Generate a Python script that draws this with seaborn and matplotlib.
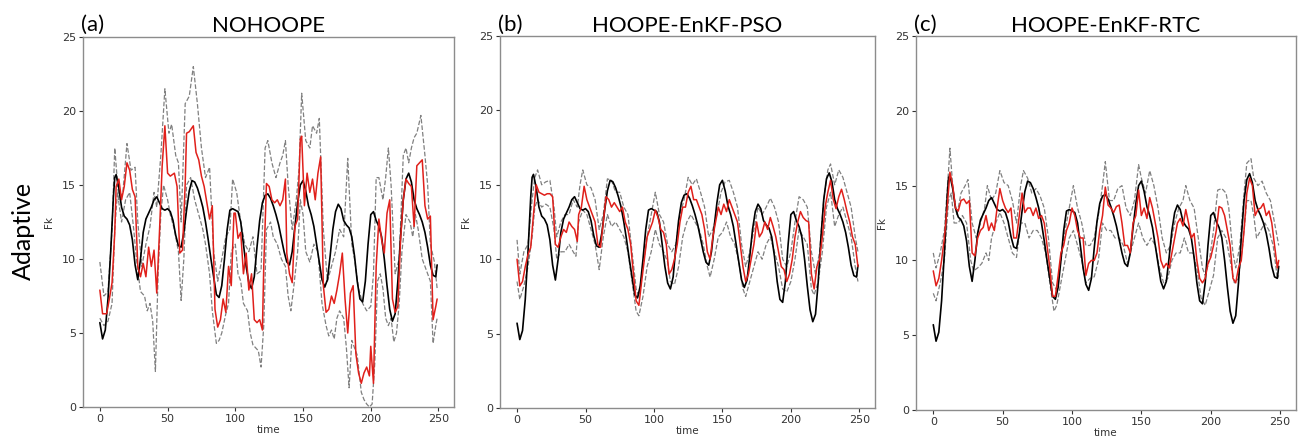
import numpy as np
import matplotlib
matplotlib.use("Agg")
import matplotlib.pyplot as plt
import seaborn as sns

# ---------------- data ----------------
time_truth = [0, 2, 4, 6, 8, 10, 11, 12, 14, 16, 18, 20, 22, 24, 26, 28, 30, 32, 34, 36, 38, 40, 42, 44, 46, 48, 50,
              52, 54, 56, 58, 60, 62, 64, 66, 68, 70, 72, 74, 76, 78, 80, 82, 84, 86, 88, 90, 92, 94, 96, 98, 100,
              102, 104, 106, 108, 110, 112, 114, 116, 118, 120, 122, 124, 126, 128, 130, 132, 134, 136, 138, 140,
              142, 144, 146, 148, 150, 152, 154, 156, 158, 160, 162, 164, 166, 168, 170, 172, 174, 176, 178, 180,
              182, 184, 186, 188, 190, 192, 194, 196, 198, 200, 202, 204, 206, 208, 210, 212, 214, 216, 218, 220,
              222, 224, 226, 228, 230, 232, 234, 236, 238, 240, 242, 244, 246, 248, 249]
truth = [5.7, 4.6, 5.2, 7.3, 10.5, 14.2, 15.5, 15.7, 14.8, 13.5, 12.9, 12.7, 12.3, 11.3, 9.6, 8.6, 10.0, 11.8, 12.7,
         13.1, 13.5, 14.0, 14.2, 13.8, 13.4, 13.3, 13.4, 13.2, 12.6, 11.6, 10.9, 10.8, 11.8, 13.3, 14.6, 15.3, 15.2,
         14.8, 14.2, 13.5, 12.5, 11.3, 10.0, 8.8, 7.6, 7.4, 8.2, 10.0, 12.0, 13.3, 13.4, 13.3, 13.2, 12.5, 11.0, 9.5,
         8.4, 8.0, 8.8, 10.8, 12.6, 13.8, 14.3, 14.4, 14.1, 13.6, 13.0, 12.3, 11.4, 10.5, 9.8, 9.6, 10.5, 12.2, 13.8,
         15.0, 15.3, 14.6, 13.6, 13.0, 12.2, 11.0, 9.8, 8.6, 8.1, 8.6, 10.2, 12.0, 13.2, 13.7, 13.4, 12.6, 12.3, 12.1,
         11.5, 10.2, 8.5, 7.3, 7.1, 8.5, 11.0, 13.0, 13.2, 12.6, 12.2, 11.5, 10.0, 8.2, 6.6, 5.8, 6.3, 8.5, 11.5, 14.0,
         15.4, 15.8, 15.2, 14.0, 13.4, 13.0, 12.5, 11.8, 10.8, 9.6, 8.9, 8.8, 9.6]

# ---- panel (a) NOHOOPE ----
time_a_mean = [0, 2, 5, 7, 9, 11, 12, 14, 16, 18, 20, 22, 24, 26, 28, 30, 32, 34, 36, 38, 40, 42, 44, 46, 48, 50, 52,
               55, 57, 59, 61, 63, 64, 66, 69, 71, 73, 75, 77, 79, 81, 83, 85, 87, 89, 91, 93, 95, 97, 99, 100, 102,
               104, 106, 108, 110, 112, 114, 116, 118, 120, 121, 123, 125, 127, 129, 131, 133, 135, 137, 138, 140,
               142, 144, 146, 148, 149, 151, 153, 155, 157, 159, 161, 163, 165, 167, 169, 171, 173, 175, 177, 179,
               181, 183, 185, 187, 189, 191, 193, 195, 197, 199, 200, 202, 204, 206, 208, 210, 212, 214, 216, 218,
               220, 222, 224, 226, 228, 230, 232, 234, 236, 238, 240, 242, 244, 246, 248, 249]
a_mean = [7.9, 6.3, 6.3, 7.3, 8.4, 11.8, 14.9, 15.4, 14.0, 14.9, 16.5, 16.0, 14.7, 14.2, 9.5, 8.8, 9.7, 8.8, 10.8,
          9.5, 10.6, 7.7, 11.8, 16.3, 19.0, 15.8, 15.6, 15.8, 14.9, 10.4, 10.6, 15.1, 18.5, 18.6, 19.0, 17.2, 16.7,
          15.6, 14.9, 13.8, 12.7, 13.6, 6.6, 5.4, 5.9, 7.3, 6.4, 9.5, 8.2, 13.1, 13.1, 11.4, 11.8, 9.0, 10.4, 7.9,
          9.0, 5.9, 5.7, 5.9, 5.2, 9.5, 15.1, 14.9, 14.0, 13.8, 14.0, 13.6, 14.0, 15.4, 10.4, 9.0, 8.4, 12.2, 12.7,
          18.1, 18.3, 13.6, 15.8, 14.5, 15.4, 14.0, 15.8, 16.9, 8.2, 6.4, 6.6, 7.5, 7.0, 7.9, 9.0, 10.4, 7.3, 5.0,
          7.7, 8.2, 3.6, 2.3, 1.6, 2.3, 2.7, 2.1, 4.1, 1.6, 9.5, 12.7, 11.3, 10.4, 13.1, 14.0, 7.3, 6.4, 6.8, 11.3,
          14.0, 15.4, 15.1, 14.9, 12.2, 16.3, 16.5, 16.7, 13.6, 12.7, 12.9, 5.9, 6.8, 7.3]

time_a_upper = [0, 3, 6, 9, 11, 14, 17, 20, 23, 26, 28, 31, 34, 37, 40, 42, 45, 48, 51, 53, 56, 58, 60, 63, 66, 69,
                72, 75, 78, 81, 84, 87, 90, 93, 96, 98, 101, 104, 107, 110, 113, 116, 119, 122, 124, 127, 130, 133,
                135, 137, 139, 142, 145, 147, 149, 152, 155, 157, 160, 162, 165, 168, 171, 174, 177, 180, 183, 186,
                188, 191, 194, 197, 200, 202, 204, 206, 209, 211, 213, 215, 218, 221, 224, 226, 228, 230, 232, 234,
                237, 240, 242, 244, 247, 249]
a_upper = [9.8, 7.5, 7.8, 12.0, 17.5, 14.0, 14.5, 17.8, 16.0, 16.2, 12.5, 9.5, 11.0, 12.2, 14.5, 13.5, 17.0, 21.5,
           18.5, 19.1, 17.0, 16.5, 12.5, 20.5, 21.0, 23.0, 20.5, 17.5, 15.5, 16.2, 10.5, 8.5, 10.0, 11.5, 12.0, 15.4,
           14.5, 12.5, 11.0, 10.5, 11.5, 9.0, 9.2, 17.5, 18.0, 16.5, 15.5, 16.5, 17.0, 18.0, 15.0, 12.0, 14.0, 16.0,
           21.2, 18.0, 17.5, 19.0, 18.5, 19.5, 12.0, 8.5, 9.5, 10.5, 12.0, 11.5, 16.8, 11.0, 10.0, 8.0, 7.0, 6.5,
           6.8, 9.0, 15.5, 15.5, 14.0, 15.5, 17.5, 15.0, 9.0, 10.0, 17.0, 17.5, 16.5, 17.5, 18.2, 18.5, 19.7, 17.0,
           15.0, 11.0, 9.8, 8.0]

time_a_lower = [0, 3, 6, 9, 11, 13, 16, 19, 22, 25, 27, 30, 33, 35, 37, 39, 41, 43, 45, 47, 50, 52, 55, 58, 60, 62,
                64, 67, 70, 73, 76, 78, 81, 83, 86, 88, 90, 93, 95, 97, 100, 102, 104, 106, 109, 111, 113, 115, 117,
                119, 121, 123, 126, 128, 131, 134, 137, 139, 141, 143, 146, 148, 150, 152, 155, 158, 161, 164, 167,
                169, 171, 173, 175, 177, 180, 182, 184, 186, 188, 190, 193, 195, 197, 199, 201, 203, 205, 207, 209,
                211, 213, 215, 217, 219, 221, 223, 226, 229, 231, 233, 235, 238, 240, 242, 244, 246, 248, 249]
a_lower = [6.0, 5.5, 5.8, 7.0, 12.0, 14.5, 12.5, 14.0, 14.5, 12.0, 10.0, 7.8, 7.5, 6.5, 7.0, 5.8, 2.4, 9.0, 13.0,
           15.0, 14.0, 13.0, 12.0, 10.5, 7.2, 10.0, 15.0, 15.5, 14.0, 13.0, 12.0, 11.0, 9.0, 6.5, 4.3, 4.5, 5.0, 6.3,
           7.0, 10.5, 11.0, 9.0, 8.5, 7.0, 6.5, 5.0, 4.2, 4.0, 3.8, 2.7, 5.5, 12.0, 12.5, 11.5, 11.0, 10.0, 9.5, 7.5,
           6.5, 8.0, 10.5, 14.0, 13.0, 10.5, 9.8, 11.0, 10.5, 7.0, 5.5, 4.8, 5.2, 4.6, 6.0, 6.5, 6.0, 4.0, 1.3, 4.5,
           4.0, 3.5, 1.0, 0.5, 0.2, 0.0, 0.2, 3.0, 8.5, 9.0, 8.0, 6.0, 5.5, 6.0, 4.4, 5.0, 7.0, 10.5, 13.0, 12.5,
           11.5, 13.0, 12.0, 10.0, 9.5, 9.0, 8.5, 4.3, 5.5, 6.0]

# ---- panel (b) HOOPE-EnKF-PSO ----
time_b_mean = [0, 2, 4, 6, 8, 10, 12, 14, 16, 18, 20, 22, 24, 26, 28, 30, 32, 34, 36, 38, 40, 42, 44, 45, 47, 49, 51,
               53, 55, 57, 59, 61, 63, 65, 67, 69, 71, 73, 75, 77, 79, 81, 83, 85, 87, 89, 91, 93, 95, 97, 99, 101,
               103, 105, 107, 109, 111, 113, 115, 117, 119, 121, 123, 125, 127, 129, 131, 133, 135, 137, 139, 141,
               143, 145, 147, 149, 151, 153, 155, 157, 159, 161, 163, 165, 167, 169, 171, 173, 175, 177, 179, 181,
               183, 185, 187, 189, 191, 193, 195, 197, 199, 201, 203, 205, 207, 209, 211, 213, 215, 217, 219, 221,
               223, 225, 227, 229, 231, 233, 235, 237, 239, 241, 243, 245, 247, 249]
b_mean = [10.0, 8.2, 8.5, 9.5, 10.3, 10.8, 13.0, 15.0, 14.5, 14.4, 14.3, 14.4, 14.4, 14.2, 11.0, 10.8, 11.5, 12.0,
          11.8, 12.5, 12.2, 12.0, 11.2, 13.0, 13.5, 14.9, 14.0, 13.5, 13.0, 12.5, 11.0, 10.8, 12.5, 14.2, 14.0, 13.5,
          13.8, 13.5, 13.2, 13.5, 12.5, 12.0, 11.0, 9.0, 7.2, 6.9, 8.5, 10.0, 11.5, 12.0, 12.5, 13.3, 12.8, 12.0,
          11.8, 11.0, 9.0, 9.3, 10.0, 11.0, 12.5, 13.5, 13.5, 14.5, 14.9, 14.0, 14.0, 13.5, 13.0, 12.0, 10.5, 10.0,
          11.5, 12.5, 13.5, 13.0, 13.7, 13.2, 14.0, 13.5, 13.0, 12.5, 11.0, 9.5, 8.5, 9.0, 10.0, 11.0, 12.5, 11.5,
          11.8, 12.5, 12.0, 12.8, 12.2, 11.5, 10.5, 9.5, 9.3, 8.5, 9.0, 10.0, 11.5, 12.5, 13.2, 12.8, 12.6, 12.5,
          9.0, 8.0, 9.5, 10.0, 11.5, 13.5, 14.5, 15.3, 14.0, 13.4, 14.2, 14.7, 14.0, 13.2, 12.5, 11.5, 11.0, 9.5]

time_b_upper = [0, 2, 5, 8, 11, 13, 15, 18, 21, 24, 27, 29, 32, 35, 38, 41, 44, 46, 48, 51, 54, 57, 60, 63, 66, 69,
                72, 75, 78, 81, 84, 87, 89, 92, 95, 98, 101, 104, 107, 110, 113, 116, 119, 122, 125, 128, 131, 134,
                137, 140, 143, 146, 149, 152, 155, 158, 161, 164, 167, 170, 173, 176, 179, 182, 185, 188, 191, 194,
                197, 200, 203, 206, 209, 212, 215, 218, 221, 224, 227, 229, 232, 235, 238, 241, 244, 247, 249]
b_upper = [11.3, 9.0, 10.5, 11.0, 14.0, 15.5, 16.0, 15.0, 15.2, 15.3, 13.5, 11.5, 12.5, 13.0, 13.0, 14.0, 13.5, 15.0,
           16.0, 15.0, 14.8, 14.0, 12.0, 13.0, 15.4, 15.3, 14.5, 14.5, 13.5, 13.0, 10.5, 8.0, 7.5, 9.5, 11.5, 13.0,
           14.5, 13.0, 12.5, 11.0, 10.5, 11.0, 13.0, 14.0, 15.5, 15.0, 15.4, 14.5, 13.5, 11.5, 12.0, 13.0, 14.5,
           15.2, 15.3, 14.5, 13.5, 11.0, 9.5, 10.5, 12.0, 13.5, 13.0, 13.5, 14.1, 13.5, 12.5, 10.0, 9.5, 10.5, 12.5,
           14.2, 14.0, 13.5, 10.5, 9.0, 10.5, 14.0, 16.0, 16.4, 15.0, 16.0, 15.5, 14.5, 13.5, 11.5, 10.5]

time_b_lower = [0, 2, 5, 8, 11, 13, 15, 18, 21, 24, 27, 29, 32, 35, 38, 41, 43, 45, 48, 51, 54, 57, 60, 63, 66, 69,
                72, 75, 78, 81, 84, 87, 89, 92, 95, 98, 101, 104, 107, 110, 112, 115, 118, 121, 124, 127, 130, 133,
                136, 139, 141, 144, 147, 150, 153, 156, 159, 162, 165, 167, 170, 173, 176, 179, 182, 185, 188, 191,
                194, 197, 200, 203, 206, 209, 212, 215, 217, 220, 223, 226, 229, 232, 235, 238, 241, 244, 247, 249]
b_lower = [8.5, 7.3, 8.2, 9.5, 11.5, 13.5, 14.0, 13.5, 13.7, 13.5, 12.0, 10.0, 10.5, 10.5, 11.0, 10.5, 10.2, 12.5,
           13.3, 13.0, 12.0, 11.0, 9.3, 11.5, 13.0, 12.2, 12.5, 12.0, 11.5, 10.5, 8.5, 6.5, 6.2, 7.5, 9.5, 10.5,
           12.0, 11.0, 10.5, 9.8, 8.5, 8.3, 9.5, 11.5, 12.5, 13.0, 12.5, 12.0, 11.0, 9.5, 8.8, 10.0, 11.5, 11.8,
           12.5, 11.5, 11.0, 9.8, 8.0, 7.5, 8.5, 9.5, 10.5, 10.0, 11.0, 11.5, 10.5, 9.5, 8.0, 7.8, 8.5, 10.0, 12.0,
           11.5, 11.0, 8.0, 7.6, 8.5, 10.5, 13.5, 14.5, 12.2, 13.0, 13.5, 12.5, 11.5, 9.5, 8.5]

# ---- panel (c) HOOPE-EnKF-RTC ----
time_c_mean = [0, 2, 4, 6, 8, 10, 12, 14, 16, 18, 20, 22, 24, 26, 28, 30, 32, 34, 36, 38, 40, 42, 44, 46, 48, 50, 52,
               54, 56, 58, 60, 62, 64, 66, 68, 70, 72, 74, 76, 78, 80, 82, 84, 86, 88, 90, 92, 94, 96, 98, 100, 102,
               104, 106, 108, 110, 112, 114, 116, 118, 120, 122, 124, 126, 128, 130, 132, 134, 136, 138, 140, 142,
               144, 146, 148, 150, 152, 154, 156, 158, 160, 162, 164, 166, 168, 170, 172, 174, 176, 178, 180, 182,
               184, 186, 188, 190, 192, 194, 196, 198, 200, 202, 204, 206, 208, 210, 212, 214, 216, 218, 220, 222,
               224, 226, 228, 230, 232, 234, 236, 238, 240, 242, 244, 246, 248, 249]
c_mean = [9.3, 8.3, 8.8, 10.0, 11.5, 13.5, 15.9, 15.0, 13.5, 13.3, 14.0, 14.1, 13.8, 14.0, 10.5, 10.3, 11.5, 12.0,
          12.2, 13.0, 12.0, 12.5, 12.0, 13.5, 14.8, 14.0, 13.5, 13.2, 13.5, 11.5, 11.5, 13.0, 14.5, 13.2, 13.5, 13.5,
          13.0, 13.5, 12.8, 13.0, 12.5, 11.0, 9.5, 7.6, 7.6, 9.0, 10.5, 11.0, 12.0, 12.5, 13.5, 13.0, 12.0, 11.5,
          11.5, 9.0, 9.8, 10.0, 10.0, 10.5, 12.0, 13.0, 14.9, 13.7, 13.5, 13.2, 13.6, 13.7, 12.5, 11.0, 11.0, 10.5,
          12.5, 13.0, 14.7, 13.0, 13.5, 12.8, 14.2, 13.5, 12.5, 11.5, 10.0, 9.5, 9.8, 9.5, 10.5, 11.5, 12.5, 12.8,
          12.3, 13.4, 12.5, 11.5, 11.8, 10.0, 8.8, 8.5, 8.8, 9.8, 10.2, 11.0, 12.0, 13.6, 13.5, 13.0, 12.0, 11.0,
          8.8, 8.5, 9.5, 10.0, 12.0, 14.5, 15.5, 15.0, 13.0, 13.4, 13.5, 13.8, 13.0, 13.3, 12.5, 11.0, 9.5, 10.0]

time_c_upper = [0, 2, 5, 8, 11, 12, 14, 17, 20, 23, 25, 28, 31, 34, 37, 39, 42, 45, 48, 51, 54, 57, 60, 63, 65, 68,
                71, 74, 77, 80, 83, 86, 89, 92, 95, 98, 101, 104, 107, 110, 113, 116, 119, 122, 124, 127, 130, 133,
                136, 139, 142, 145, 148, 150, 153, 156, 159, 162, 165, 168, 171, 174, 177, 180, 182, 185, 188, 191,
                194, 196, 199, 202, 205, 208, 211, 213, 216, 218, 221, 224, 226, 229, 231, 234, 237, 240, 243, 246,
                249]
c_upper = [10.5, 9.5, 10.5, 12.0, 16.0, 17.5, 15.0, 13.0, 14.5, 15.0, 15.4, 12.5, 11.5, 12.5, 13.5, 15.0, 14.0, 14.5,
           16.0, 15.2, 15.0, 14.0, 12.5, 15.0, 16.0, 15.5, 14.5, 14.8, 14.3, 13.5, 11.5, 8.5, 8.0, 10.0, 12.0, 13.5,
           15.0, 13.5, 12.5, 11.0, 11.0, 11.5, 13.0, 15.0, 16.6, 14.0, 14.0, 14.8, 15.0, 13.5, 13.0, 14.0, 16.4,
           15.5, 14.5, 16.0, 15.0, 13.5, 11.5, 10.5, 11.0, 12.5, 13.5, 14.0, 15.0, 14.0, 13.5, 11.5, 9.5, 9.0, 10.0,
           12.0, 14.7, 14.8, 14.5, 13.5, 10.5, 9.5, 11.0, 14.5, 16.5, 16.8, 15.5, 15.0, 15.3, 14.5, 14.0, 12.5, 11.0]

time_c_lower = [0, 2, 5, 8, 11, 13, 15, 18, 21, 24, 27, 29, 32, 35, 38, 40, 42, 45, 48, 51, 54, 57, 60, 63, 66, 69,
                72, 75, 78, 81, 84, 87, 89, 92, 95, 98, 101, 104, 107, 110, 113, 116, 119, 122, 125, 128, 131, 134,
                137, 140, 142, 145, 148, 151, 154, 157, 160, 163, 166, 169, 172, 175, 178, 181, 184, 187, 190, 193,
                196, 199, 202, 205, 208, 211, 214, 217, 220, 223, 226, 229, 231, 233, 236, 239, 242, 245, 248, 249]
c_lower = [7.8, 7.3, 8.5, 10.0, 14.0, 14.5, 12.5, 12.5, 13.0, 12.5, 10.0, 9.3, 9.5, 9.8, 10.5, 10.0, 11.5, 12.5,
           13.2, 12.5, 11.5, 10.5, 10.2, 12.5, 12.5, 11.5, 12.0, 12.0, 11.5, 10.5, 8.5, 6.6, 7.0, 8.5, 10.0, 11.5,
           12.0, 11.0, 10.0, 8.5, 8.8, 8.9, 10.0, 12.5, 12.0, 12.0, 11.5, 11.5, 11.0, 9.8, 10.5, 11.5, 12.5, 11.5,
           11.0, 11.5, 11.0, 9.5, 8.5, 8.8, 10.0, 10.5, 10.5, 11.5, 10.5, 10.5, 9.5, 7.5, 7.0, 8.0, 9.0, 11.5, 12.0,
           11.5, 10.0, 8.5, 8.8, 11.0, 14.0, 14.0, 13.0, 11.5, 12.0, 12.5, 12.0, 11.0, 8.8, 9.0]

titles = ["NOHOOPE", "HOOPE-EnKF-PSO", "HOOPE-EnKF-RTC"]
panel_tags = ["(a)", "(b)", "(c)"]
row_label = "Adaptive"
x_label = "time"
y_label = "Fk"
y_ticks = [0, 5, 10, 15, 20, 25]
x_ticks = [0, 50, 100, 150, 200, 250]

panels = [
    (time_a_mean, a_mean, time_a_upper, a_upper, time_a_lower, a_lower),
    (time_b_mean, b_mean, time_b_upper, b_upper, time_b_lower, b_lower),
    (time_c_mean, c_mean, time_c_upper, c_upper, time_c_lower, c_lower),
]

# ---------------- figure ----------------
sns.set_theme(style="ticks")
plt.rcParams["font.family"] = ["DejaVu Sans"]

W, H = 1298, 445
fig = plt.figure(figsize=(W / 100, H / 100), dpi=100)

# axes boxes in pixels: left, right, top, bottom
boxes = [(83, 454, 37, 407), (500, 875, 36, 408), (916, 1296, 36, 410)]

spine_col = "#8c8c8c"
title_font = "Lato"

for i, (box, data) in enumerate(zip(boxes, panels)):
    l, r, t, b = box
    ax = fig.add_axes([l / W, (H - b) / H, (r - l) / W, (b - t) / H])
    tm, m, tu, u, tl, lo = data
    sns.lineplot(x=tu, y=u, ax=ax, color="#808080", linewidth=0.9, linestyle="--",
                 estimator=None, sort=False)
    sns.lineplot(x=tl, y=lo, ax=ax, color="#808080", linewidth=0.9, linestyle="--",
                 estimator=None, sort=False)
    sns.lineplot(x=time_truth, y=truth, ax=ax, color="black", linewidth=1.2,
                 estimator=None, sort=False)
    sns.lineplot(x=tm, y=m, ax=ax, color="#e0201b", linewidth=1.1,
                 estimator=None, sort=False)
    ax.set_ylim(0, 25)
    ax.set_xlim(-12.45, 261.45)
    ax.set_yticks(y_ticks)
    ax.set_xticks(x_ticks)
    ax.tick_params(labelsize=8, length=3, width=0.8, colors="#333333", pad=2)
    ax.set_xlabel(x_label, fontsize=7.5, labelpad=1, color="#333333")
    ax.set_ylabel(y_label, fontsize=7.5, labelpad=6, color="#333333")
    for s in ax.spines.values():
        s.set_visible(True)
        s.set_color(spine_col)
        s.set_linewidth(1.0)
    # title and tag
    fig.text(((l + r) / 2) / W, (H - 32) / H, titles[i], fontsize=16, family=title_font,
             ha="center", va="baseline", color="black")
    fig.text((l - 2) / W, (H - 31) / H, panel_tags[i], fontsize=16, family=title_font,
             ha="left", va="baseline", color="black")

fig.text(23 / W, (H - 231) / H, row_label, fontsize=18, family=title_font, rotation=90,
         ha="center", va="center", color="black")

fig.savefig("out.png", dpi=100)
